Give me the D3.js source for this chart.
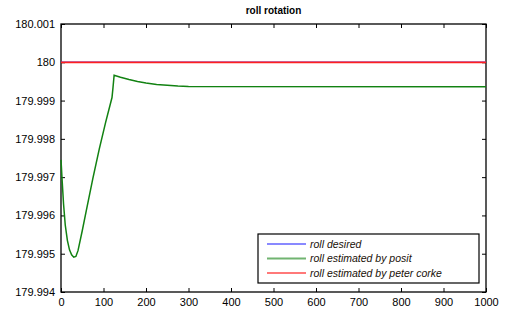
<!DOCTYPE html>
<html>
<head>
<meta charset="utf-8">
<script src="https://cdn.jsdelivr.net/npm/d3@7"></script>
<style>
  body { margin: 0; background: #fff; }
  text { font-family: "Liberation Sans", Arial, sans-serif; }
</style>
</head>
<body>
<script>
// data
var xs = [0, 3, 6, 10, 15, 20, 25, 30, 35, 40, 50, 60, 75, 90, 105, 120, 122, 125, 140, 160, 180, 200, 225, 250, 275, 300, 1000];
var posit = [179.99745, 179.99685, 179.99630, 179.99575, 179.99535, 179.99510, 179.99497, 179.99491,
             179.99493, 179.99508, 179.99560, 179.99615, 179.99697, 179.99773, 179.99843, 179.99908,
             179.99930, 179.99966, 179.99961, 179.99955, 179.99950, 179.99946, 179.99942, 179.99940,
             179.99938, 179.99937, 179.99936];
var desiredX = [0, 1000];
var desired = [180, 180];
var corkeX = [0, 1000];
var corke = [180, 180];
var xTicks = [0, 100, 200, 300, 400, 500, 600, 700, 800, 900, 1000];
var yTicks = [179.994, 179.995, 179.996, 179.997, 179.998, 179.999, 180, 180.001];
var legendLabels = ["roll desired", "roll estimated by posit", "roll estimated by peter corke"];
var legendColors = ["#3a3aff", "#128212", "#ff2020"];

var w = 505, h = 313;
var mLeft = 61, mRight = 486, mTop = 24, mBottom = 292;

var svg = d3.select("body").append("svg")
    .attr("width", w)
    .attr("height", h);

var x = d3.scaleLinear().domain([0, 1000]).range([mLeft, mRight]);
var y = d3.scaleLinear().domain([179.994, 180.001]).range([mBottom, mTop]);

var fmt = function(d) { return d3.format(".3f")(d).replace(/\.?0+$/, ""); };

// axes, ticks inward like matlab
svg.append("g")
    .attr("transform", "translate(0," + mBottom + ")")
    .call(d3.axisBottom(x).tickValues(xTicks).tickSizeInner(-4).tickSizeOuter(0).tickPadding(6).tickFormat(d3.format("d")))
    .call(function(g) { g.select(".domain").remove(); })
    .selectAll("text").attr("font-size", "11px").attr("fill", "#000");

svg.append("g")
    .attr("transform", "translate(0," + mTop + ")")
    .call(d3.axisTop(x).tickValues(xTicks).tickSizeInner(-4).tickSizeOuter(0).tickFormat(""))
    .call(function(g) { g.select(".domain").remove(); });

svg.append("g")
    .attr("transform", "translate(" + mLeft + ",0)")
    .call(d3.axisLeft(y).tickValues(yTicks).tickSizeInner(-4).tickSizeOuter(0).tickPadding(6).tickFormat(fmt))
    .call(function(g) { g.select(".domain").remove(); })
    .selectAll("text").attr("font-size", "11px").attr("fill", "#000");

svg.append("g")
    .attr("transform", "translate(" + mRight + ",0)")
    .call(d3.axisRight(y).tickValues(yTicks).tickSizeInner(-4).tickSizeOuter(0).tickFormat(""))
    .call(function(g) { g.select(".domain").remove(); });

svg.selectAll(".tick line").attr("stroke", "#000");

// box
svg.append("rect")
    .attr("x", mLeft).attr("y", mTop)
    .attr("width", mRight - mLeft).attr("height", mBottom - mTop)
    .attr("fill", "none").attr("stroke", "#000").attr("stroke-width", 1.3);

var line = d3.line()
    .x(function(d) { return x(d[0]); })
    .y(function(d) { return y(d[1]); });

svg.append("path")
    .datum(d3.zip(desiredX, desired))
    .attr("d", line).attr("fill", "none")
    .attr("stroke", legendColors[0]).attr("stroke-width", 1.5);

svg.append("path")
    .datum(d3.zip(xs, posit))
    .attr("d", line).attr("fill", "none")
    .attr("stroke", legendColors[1]).attr("stroke-width", 1.5);

svg.append("path")
    .datum(d3.zip(corkeX, corke))
    .attr("d", line).attr("fill", "none")
    .attr("stroke", legendColors[2]).attr("stroke-width", 1.8);

// title
svg.append("text")
    .attr("x", (mLeft + mRight) / 2).attr("y", 14)
    .attr("text-anchor", "middle")
    .attr("font-size", "10px")
    .attr("font-weight", "bold")
    .text("roll rotation");

// legend
var lg = svg.append("g");
lg.append("rect")
    .attr("x", 258).attr("y", 234)
    .attr("width", 221).attr("height", 49)
    .attr("fill", "#fff").attr("stroke", "#000").attr("stroke-width", 1.2);

legendLabels.forEach(function(lab, i) {
    var ly = 244 + i * 14.5;
    lg.append("line")
        .attr("x1", 267).attr("x2", 306)
        .attr("y1", ly).attr("y2", ly)
        .attr("stroke", legendColors[i]).attr("stroke-width", 2)
        .attr("stroke-opacity", 0.6);
    lg.append("text")
        .attr("x", 310).attr("y", ly + 3.8)
        .attr("font-size", "10.5px")
        .attr("font-style", "italic")
        .attr("fill", "#201008")
        .text(lab);
});
</script>
</body>
</html>
